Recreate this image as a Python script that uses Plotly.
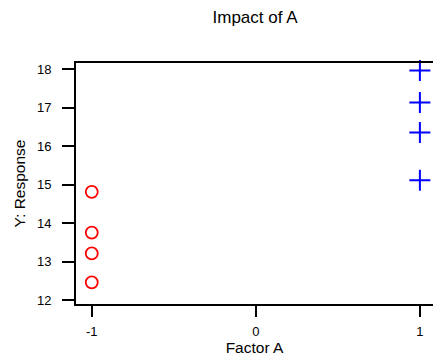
import plotly.graph_objects as go

# Data
low_x = [-1, -1, -1, -1]
low_y = [14.81, 13.75, 13.21, 12.46]
high_x = [1, 1, 1, 1]
high_y = [17.96, 17.13, 16.35, 15.11]
x_ticks = [-1, 0, 1]
y_ticks = [12, 13, 14, 15, 16, 17, 18]

fig = go.Figure()
fig.add_trace(go.Scatter(
    x=low_x, y=low_y, mode="markers", cliponaxis=False,
    marker=dict(symbol="circle-open", size=12, color="red", line=dict(width=1.8, color="red")),
    showlegend=False,
))
fig.add_trace(go.Scatter(
    x=high_x, y=high_y, mode="markers", cliponaxis=False,
    marker=dict(symbol="cross-thin-open", size=15, color="blue", line=dict(width=2, color="blue")),
    showlegend=False,
))

font = "Liberation Sans, Arial, sans-serif"
fig.update_layout(
    width=433, height=358,
    margin=dict(l=76, r=0, t=63, b=54),
    plot_bgcolor="white", paper_bgcolor="white",
    font=dict(family=font, size=13, color="black"),
    title=dict(text="Impact of A", x=0.589, xanchor="center", y=0.951, yanchor="middle",
               font=dict(size=17, family=font, color="black")),
    xaxis=dict(
        range=[-1.096, 1.08], tickvals=x_ticks, ticktext=[str(v) for v in x_ticks],
        showgrid=False, zeroline=False, showline=True, linecolor="black", linewidth=2,
        mirror=True, ticks="outside", ticklen=11, tickwidth=2, tickcolor="black",
        automargin=False, ticklabeloverflow="allow", ticklabelstandoff=3,
        title=dict(text="Factor A", standoff=5, font=dict(size=15.5)),
    ),
    yaxis=dict(
        range=[11.896, 18.156], tickvals=y_ticks,
        showgrid=False, zeroline=False, showline=True, linecolor="black", linewidth=2,
        ticks="outside", ticklen=12, tickwidth=2, tickcolor="black",
        automargin=False, ticklabelstandoff=8,
        title=dict(text="Y: Response", standoff=8, font=dict(size=15.5)),
    ),
)

# Remove the default page margin so the figure sits at the window's top-left corner.
fig.write_html(
    "out.html",
    config={"displayModeBar": False},
    post_script="document.body.style.margin='0';document.body.style.overflow='hidden';",
)
